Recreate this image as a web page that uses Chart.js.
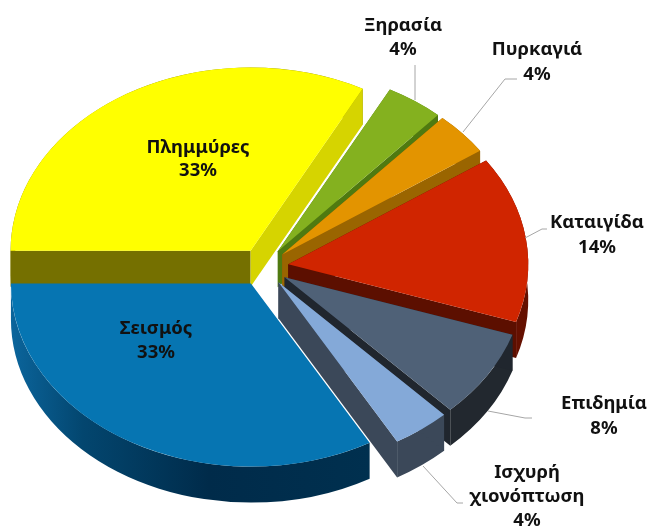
<!DOCTYPE html>
<html>
<head>
  <meta charset="UTF-8">
  <title>Φυσικές καταστροφές</title>
  <script src="https://cdn.jsdelivr.net/npm/chart.js"></script>
  <style>
    html, body { margin: 0; padding: 0; background: #fff; }
    canvas { display: block; }
  </style>
</head>
<body>
  <canvas id="pie3d" width="647" height="527"></canvas>
  <script>
    const categories = ["Πλημμύρες", "Ξηρασία", "Πυρκαγιά", "Καταιγίδα", "Επιδημία", "Ισχυρή χιονόπτωση", "Σεισμός"];
    // slice sizes, the printed labels are rounded
    const values = [32.8, 3.9, 3.8, 14.7, 7.8, 3.9, 33.3];

    const topColors = ["#ffff00", "#84b11f", "#e39400", "#d02500", "#4f6177", "#84a9d8", "#0675b2"];
    const wallColors = ["#8a8600", "#4f7a10", "#8f5c00", "#651000", "#22282f", "#3b4859", null];
    const startCutColors = ["#757000", "#4f7a10", "#8f5c00", "#5c0f00", "#20262e", "#3b4859", null];
    const endCutColors = ["#d6d400", "#4f7a10", "#9a6500", "#5c0f00", "#20262e", "#3b4859", null];

    // flatten and thickness of the fake 3d pie
    const flatten = 0.763;
    const depth = 36;
    const explode = 25;

    // text: [text, center x, center y]
    const labels = [
      ["Πλημμύρες", 198, 148], ["33%", 198, 171],
      ["Σεισμός", 156, 329], ["33%", 156, 353],
      ["Ξηρασία", 403, 26], ["4%", 403, 50],
      ["Πυρκαγιά", 537, 50], ["4%", 537, 75],
      ["Καταιγίδα", 597, 223], ["14%", 597, 248],
      ["Επιδημία", 604, 404], ["8%", 604, 429],
      ["Ισχυρή", 527, 473], ["χιονόπτωση", 527, 497], ["4%", 527, 521]
    ];

    const leaders = [
      [[415, 65], [415, 100]],
      [[517, 79], [505, 79], [463, 132]],
      [[547, 229], [542, 229], [525, 238]],
      [[532, 418], [525, 418], [488, 411]],
      [[463, 503], [457, 503], [423, 466]]
    ];

    function centerOf(arc) {
      const mid = (arc.startAngle + arc.endAngle) / 2;
      return {
        x: arc.x + Math.cos(mid) * explode,
        y: arc.y + Math.sin(mid) * explode * flatten
      };
    }

    function drawCut(ctx, arc, angle, color) {
      if (!color) return;
      const c = centerOf(arc);
      const px = c.x + Math.cos(angle) * arc.outerRadius;
      const py = c.y + Math.sin(angle) * arc.outerRadius * flatten;
      ctx.beginPath();
      ctx.moveTo(c.x, c.y);
      ctx.lineTo(px, py);
      ctx.lineTo(px, py + depth);
      ctx.lineTo(c.x, c.y + depth);
      ctx.closePath();
      ctx.fillStyle = color;
      ctx.fill();
    }

    function drawWall(ctx, arc, fill) {
      const c = centerOf(arc);
      const ry = arc.outerRadius * flatten;
      ctx.beginPath();
      ctx.ellipse(c.x, c.y, arc.outerRadius, ry, 0, arc.startAngle, arc.endAngle);
      ctx.ellipse(c.x, c.y + depth, arc.outerRadius, ry, 0, arc.endAngle, arc.startAngle, true);
      ctx.closePath();
      ctx.fillStyle = fill;
      ctx.fill();
    }

    const pie3d = {
      id: 'pie3d',
      beforeDatasetDraw(chart, args) {
        const { ctx } = chart;
        const arcs = args.meta.data;

        // side walls first, back to front
        arcs.forEach((arc, i) => {
          let fill = wallColors[i];
          if (!fill) {
            fill = ctx.createLinearGradient(11, 0, 371, 0);
            fill.addColorStop(0, "#0b659c");
            fill.addColorStop(0.2, "#03466f");
            fill.addColorStop(0.55, "#002b4a");
            fill.addColorStop(1, "#00304f");
          }
          drawWall(ctx, arc, fill);
          drawCut(ctx, arc, arc.startAngle, startCutColors[i]);
          drawCut(ctx, arc, arc.endAngle, endCutColors[i]);
        });

        // top faces, the library's own arcs squeezed into ellipses
        arcs.forEach(arc => {
          const mid = (arc.startAngle + arc.endAngle) / 2;
          ctx.save();
          ctx.translate(0, arc.y);
          ctx.scale(1, flatten);
          ctx.translate(0, -arc.y);
          ctx.translate(Math.cos(mid) * explode, Math.sin(mid) * explode);
          arc.draw(ctx);
          ctx.restore();
        });
        return false;
      },
      afterDraw(chart) {
        const { ctx } = chart;
        ctx.save();
        ctx.strokeStyle = "#a6a6a6";
        ctx.lineWidth = 1;
        leaders.forEach(points => {
          ctx.beginPath();
          points.forEach((p, i) => i ? ctx.lineTo(p[0], p[1]) : ctx.moveTo(p[0], p[1]));
          ctx.stroke();
        });
        ctx.fillStyle = "#111";
        ctx.font = "bold 18.5px 'Noto Sans'";
        ctx.textAlign = "center";
        ctx.textBaseline = "middle";
        labels.forEach(l => ctx.fillText(l[0], l[1], l[2]));
        ctx.restore();
      }
    };

    new Chart(document.getElementById("pie3d"), {
      type: 'pie',
      data: {
        labels: categories,
        datasets: [{
          data: values,
          backgroundColor: topColors,
          borderWidth: 0
        }]
      },
      options: {
        responsive: false,
        animation: false,
        rotation: -90,
        radius: 240,
        layout: { padding: { top: 7, right: 120 } },
        plugins: {
          legend: { display: false },
          tooltip: { enabled: false }
        }
      },
      plugins: [pie3d]
    });
  </script>
</body>
</html>
